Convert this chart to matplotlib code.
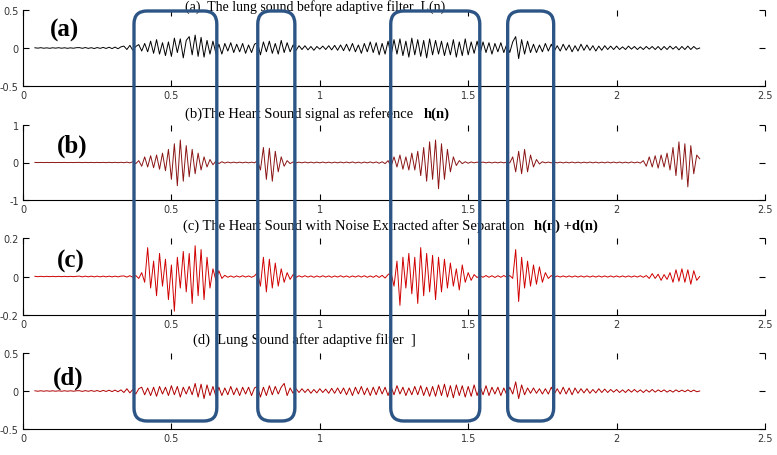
import numpy as np
import matplotlib.pyplot as plt
from matplotlib.patches import FancyBboxPatch
from matplotlib.transforms import IdentityTransform

# sample grid of the recordings (seconds): one row below = 0.15 s
t0 = 0.04
dt = 0.01

# (a) lung sound before adaptive filter
sig_a = [0.003, -0.002, 0.004, -0.003, 0.002, -0.004, 0.003, -0.002, 0.004, -0.003, 0.003, -0.004, 0.002, -0.003, 0.004,
         0.005, -0.004, 0.006, -0.005, 0.004, -0.007, 0.006, -0.005, 0.008, -0.006, 0.01, -0.008, 0.012, -0.01, 0.015,
         0.025, -0.02, 0.035, -0.03, 0.02, 0.045, -0.04, 0.06, -0.05, 0.09, -0.07, 0.11, -0.08, 0.07, -0.1,
         0.08, -0.11, 0.13, -0.06, 0.12, -0.13, 0.1, 0.15, -0.09, 0.17, -0.11, 0.14, -0.12, 0.1, -0.08,
         0.09, -0.07, 0.05, -0.08, 0.06, -0.04, 0.07, -0.06, 0.05, -0.05, 0.06, -0.07, 0.04, -0.06, 0.05,
         0.07, -0.09, 0.08, -0.05, 0.09, -0.07, 0.06, -0.08, 0.1, -0.06, 0.07, -0.05, 0.04, -0.03, 0.03,
         -0.02, 0.03, -0.025, 0.02, -0.03, 0.02, -0.015, 0.025, -0.02, 0.03, -0.025, 0.035, -0.03, 0.04, -0.035,
         0.05, -0.04, 0.06, -0.05, 0.04, -0.07, 0.06, -0.05, 0.08, -0.06, 0.07, -0.09, 0.06, -0.08, 0.09,
         -0.1, 0.11, -0.08, 0.12, -0.1, 0.09, -0.12, 0.13, -0.09, 0.11, -0.11, 0.1, -0.13, 0.12, -0.09,
         0.1, -0.08, 0.09, -0.1, 0.07, -0.09, 0.11, -0.12, 0.08, -0.1, 0.12, -0.09, 0.08, -0.07, 0.09,
         -0.07, 0.08, -0.06, 0.07, -0.08, 0.06, -0.05, 0.07, -0.06, 0.05, -0.06, 0.08, 0.15, -0.14, 0.11,
         -0.08, 0.09, -0.06, 0.05, -0.06, 0.04, -0.05, 0.06, -0.04, 0.05, -0.04, 0.03, -0.04, 0.05, -0.03,
         0.04, -0.05, 0.03, -0.04, 0.05, -0.03, 0.04, -0.03, 0.03, -0.04, 0.025, -0.03, 0.03, -0.02, 0.025,
         -0.02, 0.025, -0.02, 0.015, -0.02, 0.025, -0.015, 0.02, -0.02, 0.015, -0.02, 0.02, -0.015, 0.02, -0.02,
         0.02, -0.025, 0.02, -0.02, 0.025, -0.015, 0.02, -0.025, 0.02, -0.02, 0.025, -0.02, 0.02, -0.015, 0.0]

# (b) heart sound reference h(n)
sig_b = [0.002, -0.002, 0.002, -0.002, 0.002, -0.002, 0.002, -0.002, 0.002, -0.002, 0.002, -0.002, 0.002, -0.002, 0.002,
         0.003, -0.003, 0.004, -0.003, 0.003, -0.004, 0.003, -0.003, 0.004, -0.004, 0.005, -0.004, 0.005, -0.005, 0.006,
         -0.006, 0.01, -0.01, 0.02, -0.03, 0.05, -0.1, 0.15, -0.12, 0.18, -0.14, 0.2, -0.18, 0.25, -0.22,
         0.35, -0.45, 0.5, -0.62, 0.6, -0.5, 0.45, -0.38, 0.35, -0.3, 0.25, -0.2, 0.15, -0.12, 0.08,
         -0.06, 0.04, -0.03, 0.02, -0.015, 0.012, -0.01, 0.01, -0.01, 0.01, -0.01, 0.01, -0.01, 0.01, -0.01,
         0.05, -0.2, 0.4, -0.45, 0.38, -0.5, 0.3, -0.25, 0.15, -0.1, 0.05, -0.03, 0.015, -0.01, 0.01,
         -0.01, 0.012, -0.01, 0.01, -0.012, 0.01, -0.01, 0.012, -0.01, 0.01, -0.012, 0.01, -0.01, 0.012, -0.01,
         0.012, -0.01, 0.015, -0.012, 0.01, -0.015, 0.012, -0.01, 0.015, -0.012, 0.015, -0.02, 0.02, -0.03, 0.05,
         -0.1, 0.15, -0.12, 0.2, -0.18, 0.15, -0.2, 0.25, -0.2, 0.3, -0.35, 0.4, -0.5, 0.55, -0.45,
         0.6, -0.7, 0.5, -0.45, 0.35, -0.25, 0.15, -0.08, 0.05, -0.03, 0.02, -0.02, 0.015, -0.01, 0.01,
         -0.01, 0.012, -0.01, 0.01, -0.012, 0.01, -0.01, 0.012, -0.01, 0.012, -0.01, 0.15, -0.25, 0.3, -0.3,
         0.35, -0.25, 0.2, -0.12, 0.08, -0.04, 0.02, -0.01, 0.012, -0.01, 0.012, -0.01, 0.01, -0.012, 0.01,
         -0.01, 0.012, -0.01, 0.01, -0.012, 0.01, -0.01, 0.012, -0.01, 0.01, -0.012, 0.01, -0.01, 0.012, -0.01,
         0.012, -0.01, 0.012, -0.012, 0.01, -0.012, 0.015, -0.01, 0.012, -0.015, 0.05, -0.1, 0.15, -0.12, 0.18,
         -0.15, 0.2, -0.12, 0.25, -0.2, 0.4, -0.35, 0.55, -0.45, 0.5, -0.65, 0.45, -0.3, 0.2, 0.1]

# (c) heart sound with noise extracted, h(n)+d(n)
sig_c = [0.001, -0.001, 0.001, -0.001, 0.001, -0.001, 0.001, -0.001, 0.001, -0.001, 0.001, -0.001, 0.001, -0.001, 0.001,
         0.002, -0.002, 0.002, -0.002, 0.002, -0.002, 0.002, -0.002, 0.002, -0.002, 0.002, -0.002, 0.002, -0.002, 0.002,
         0.003, -0.003, 0.004, -0.004, 0.005, -0.01, 0.02, -0.03, 0.15, -0.06, 0.08, -0.1, 0.12, -0.05, 0.09,
         -0.12, 0.06, -0.18, 0.1, -0.06, 0.13, -0.08, 0.12, -0.14, 0.16, -0.1, 0.14, -0.12, 0.1, -0.06,
         0.04, -0.02, 0.03, -0.01, 0.006, -0.004, 0.003, -0.004, 0.003, -0.003, 0.004, -0.003, 0.003, -0.004, 0.003,
         0.02, -0.05, 0.1, -0.08, 0.09, -0.06, 0.07, -0.05, 0.04, -0.03, 0.02, -0.015, 0.01, -0.005, 0.004,
         -0.003, 0.004, -0.003, 0.003, -0.004, 0.003, -0.003, 0.004, -0.003, 0.003, -0.004, 0.003, -0.003, 0.004, -0.003,
         0.003, -0.004, 0.003, -0.003, 0.004, -0.003, 0.004, -0.004, 0.003, -0.004, 0.005, -0.005, 0.006, -0.008, 0.01,
         0.02, -0.05, 0.08, -0.15, 0.1, -0.06, 0.12, -0.09, 0.1, -0.14, 0.15, -0.1, 0.12, -0.08, 0.11,
         -0.12, 0.1, -0.08, 0.09, -0.06, 0.07, -0.05, 0.04, -0.07, 0.06, -0.03, 0.02, -0.02, 0.01, -0.005,
         0.004, -0.004, 0.005, -0.004, 0.004, -0.005, 0.004, -0.004, 0.005, -0.004, 0.005, -0.01, 0.14, -0.13, 0.1,
         -0.06, 0.08, -0.05, 0.06, -0.04, 0.05, -0.03, 0.02, -0.01, 0.005, -0.004, 0.003, -0.003, 0.003, -0.003,
         0.003, -0.003, 0.003, -0.003, 0.003, -0.003, 0.003, -0.003, 0.003, -0.003, 0.003, -0.003, 0.003, -0.003, 0.003,
         -0.003, 0.003, -0.003, 0.003, -0.003, 0.003, -0.003, 0.003, -0.003, 0.004, -0.004, 0.005, -0.01, 0.015, -0.01,
         0.012, -0.02, 0.01, -0.015, 0.02, -0.03, 0.035, -0.025, 0.04, -0.03, 0.035, -0.04, 0.03, -0.02, 0.0]

# (d) lung sound after adaptive filter
sig_d = [0.003, -0.003, 0.003, -0.003, 0.003, -0.003, 0.003, -0.003, 0.003, -0.003, 0.003, -0.003, 0.003, -0.003, 0.003,
         0.004, -0.005, 0.005, -0.004, 0.006, -0.005, 0.006, -0.007, 0.008, -0.006, 0.01, -0.008, 0.012, -0.01, 0.015,
         -0.02, 0.03, -0.025, 0.02, -0.04, 0.03, 0.05, -0.05, 0.04, -0.06, 0.05, -0.07, 0.06, -0.04, 0.05,
         -0.06, 0.07, -0.05, 0.06, -0.08, 0.05, -0.04, 0.06, -0.05, 0.1, -0.08, 0.09, -0.1, 0.08, -0.06,
         0.06, -0.07, 0.05, -0.06, 0.04, -0.05, 0.06, -0.05, 0.04, -0.06, 0.05, -0.04, 0.05, -0.06, 0.04,
         0.06, -0.08, 0.05, -0.06, 0.07, -0.05, 0.06, -0.04, 0.05, 0.1, -0.06, 0.04, -0.03, 0.03, -0.02,
         0.03, -0.02, 0.025, -0.03, 0.02, -0.025, 0.03, -0.02, 0.025, -0.03, 0.035, -0.03, 0.04, -0.035, 0.04,
         -0.05, 0.04, -0.06, 0.05, -0.04, 0.06, -0.05, 0.04, -0.06, 0.05, -0.05, 0.06, -0.04, 0.05, -0.06,
         0.06, -0.05, 0.07, -0.04, 0.05, -0.06, 0.04, -0.05, 0.06, -0.05, 0.07, -0.06, 0.05, -0.07, 0.06,
         -0.07, 0.08, -0.06, 0.09, -0.08, 0.07, -0.09, 0.08, -0.06, 0.07, -0.08, 0.06, -0.07, 0.08, -0.06,
         0.06, -0.05, 0.07, -0.06, 0.05, -0.04, 0.05, -0.06, 0.04, -0.05, 0.05, -0.04, 0.12, -0.1, 0.08,
         -0.05, 0.04, -0.03, 0.04, -0.03, 0.03, -0.04, 0.03, -0.04, 0.05, -0.04, 0.03, -0.04, 0.05, -0.04,
         0.04, -0.05, 0.04, -0.03, 0.03, -0.025, 0.03, -0.03, 0.02, -0.025, 0.03, -0.02, 0.025, -0.02, 0.02,
         -0.015, 0.02, -0.02, 0.015, -0.02, 0.02, -0.015, 0.02, -0.015, 0.015, -0.02, 0.015, -0.015, 0.02, -0.015,
         0.015, -0.01, 0.015, -0.015, 0.01, -0.015, 0.015, -0.01, 0.012, -0.01, 0.015, -0.01, 0.012, -0.01, 0.0]

signals = [sig_a, sig_b, sig_c, sig_d]
colors = ['black', '#8b1515', '#d00000', '#b00000']
ylims = [0.5, 1, 0.2, 0.5]
ylabels = [['-0.5', '0', '0.5'], ['-1', '0', '1'], ['-0.2', '0', '0.2'], ['-0.5', '0', '0.5']]
panel_tags = ['(a)', '(b)', '(c)', '(d)']
xticks = [0, 0.5, 1, 1.5, 2, 2.5]
xticklabels = ['0', '0.5', '1', '1.5', '2', '2.5']

# highlighted regions (seconds)
box_ranges = [(0.374, 0.653), (0.791, 0.916), (1.239, 1.539), (1.633, 1.788)]

W, H = 777, 456
fig = plt.figure(figsize=(W / 100, H / 100), dpi=100)
fig.patch.set_facecolor('white')

# axes boxes in pixels: (top, bottom)
rows = [(11, 87), (126, 201), (239, 316), (354, 430)]
left, right = 23, 765
# panel tag placement (x in seconds, y as fraction of the y-limit)
tag_pos = [(0.141, 0.5), (0.165, 0.45), (0.162, 0.42), (0.152, 0.37)]

axes = []
for i, (top, bot) in enumerate(rows):
    ax = fig.add_axes([left / W, 1 - bot / H, (right - left) / W, (bot - top) / H])
    y = np.array(signals[i])
    t = t0 + dt * np.arange(len(y))
    ax.plot(t, y, color=colors[i], linewidth=0.7)
    ax.set_xlim(0, 2.5)
    lim = ylims[i]
    ax.set_ylim(-lim, lim)
    ax.set_xticks(xticks)
    ax.set_xticklabels(xticklabels)
    ax.set_yticks([-lim, 0, lim])
    ax.set_yticklabels(ylabels[i])
    ax.spines['top'].set_visible(False)
    ax.spines['right'].set_visible(False)
    ax.spines['left'].set_linewidth(0.8)
    ax.spines['bottom'].set_linewidth(0.8)
    ax.tick_params(direction='in', top=True, right=True, length=4, width=0.8,
                   labelsize=7, labelcolor='#333333', pad=3)
    ax.patch.set_alpha(0)
    tx, ty = tag_pos[i]
    ax.text(tx, ty * lim, panel_tags[i], fontsize=18, fontweight='bold',
            family='Liberation Serif', ha='center', va='center')
    axes.append(ax)

serif = 'Liberation Serif'


def ftext(x, y, s, size=10.5, **kw):
    fig.text(x / W, 1 - y / H, s, family=serif, fontsize=size, va='center', ha='left', **kw)


ftext(185, 7, '(a)  The lung sound before adaptive filter  L(n)', size=10)
ftext(185, 114, '(b)The Heart Sound signal as reference')
ftext(424, 114, 'h(n)', fontweight='bold')
ftext(183, 226, '(c) The Heart Sound with Noise Extracted after Separation')
ftext(534, 226, 'h(n) +d(n)', fontweight='bold')
ftext(193, 340, '(d)  Lung Sound after adaptive filter  ]')

# rounded highlight boxes, drawn in pixel space over all panels
fig.canvas.draw()
ref = axes[0]
box_top, box_bot = 12, 422
for x0, x1 in box_ranges:
    px0 = ref.transData.transform((x0, 0))[0]
    px1 = ref.transData.transform((x1, 0))[0]
    patch = FancyBboxPatch((px0, H - box_bot), px1 - px0, box_bot - box_top,
                           boxstyle='round,pad=0,rounding_size=13',
                           transform=IdentityTransform(), fill=False,
                           edgecolor='#2c5585', linewidth=2.4, zorder=10)
    fig.add_artist(patch)

fig.savefig('out.png', dpi=100)
